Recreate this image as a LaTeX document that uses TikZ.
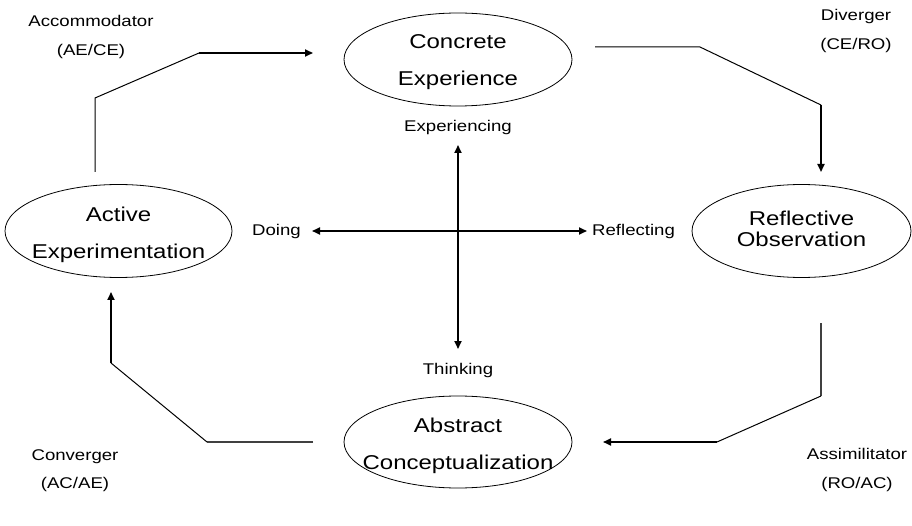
\documentclass[tikz,border=0pt]{standalone}
\usepackage{fontspec}
\setmainfont{Liberation Sans}[FakeStretch=1.2]
\usetikzlibrary{shapes.geometric,arrows.meta}
\tikzset{
  stage/.style={ellipse, draw, line width=0.8pt, inner sep=0pt},
  big/.style={align=center, font=\fontsize{20}{37}\selectfont, inner sep=0pt},
  small/.style={align=center, font=\fontsize{15.5}{28.5}\selectfont, inner sep=0pt},
  thinline/.style={line width=1pt},
  greyline/.style={line width=1.3pt, draw=black!75},
  arrowline/.style={line width=1.8pt, -{Triangle[length=8pt,width=7pt]}},
  crossline/.style={line width=1.8pt, {Triangle[length=8pt,width=7pt]}-{Triangle[length=8pt,width=7pt]}}
}
\begin{document}
\begin{tikzpicture}[x=1pt,y=-1pt]
\useasboundingbox (0,0) rectangle (912,526);

% stages
\node[stage, minimum width=228pt, minimum height=93pt,
      label={[big, yshift=-2.5pt]center:Concrete\\Experience}] (ce) at (458,59.5) {};
\node[stage, minimum width=227pt, minimum height=93pt,
      label={[big, yshift=-3.5pt]center:Active\\Experimentation}] (ae) at (118.5,231) {};
\node[stage, minimum width=219pt, minimum height=93pt,
      label={[big, font=\fontsize{20}{21.5}\selectfont, yshift=2pt]center:Reflective\\Observation}] (ro) at (801.5,231) {};
\node[stage, minimum width=228pt, minimum height=92pt,
      label={[big, yshift=-4pt]center:Abstract\\Conceptualization}] (ac) at (458,442) {};

% style labels
\node[small] (acc) at (91,37) {Accommodator\\(AE/CE)};
\node[small] (div) at (856,31) {Diverger\\(CE/RO)};
\node[small] (con) at (75,470.5) {Converger\\(AC/AE)};
\node[small] (ass) at (857,470) {Assimilitator\\(RO/AC)};

% dimension labels
\node[small] (exp) at (458,127) {Experiencing};
\node[small] (thk) at (458,370) {Thinking};
\node[small, anchor=west] (doi) at (252,231) {Doing};
\node[small, anchor=west] (ref) at (592,231) {Reflecting};

% cross
\coordinate (vt) at (458,145);
\coordinate (vb) at (458,349);
\coordinate (hl) at (312,231);
\coordinate (hr) at (587,231);
\draw[crossline] (vt) -- (vb);
\draw[crossline] (hl) -- (hr);

% cycle: AE -> CE
\coordinate (a1) at (95,172);
\coordinate (a2) at (95,98);
\coordinate (a3) at (199,53);
\coordinate (a4) at (313,53);
\draw[thinline] (a1) -- (a2) -- (a3);
\draw[arrowline] (a3) -- (a4);

% CE -> RO
\coordinate (b1) at (595,47);
\coordinate (b2) at (700,47);
\coordinate (b3) at (821,105);
\coordinate (b4) at (821,172);
\draw[thinline] (b1) -- (b2) -- (b3);
\draw[arrowline] (b3) -- (b4);

% RO -> AC
\coordinate (c1) at (821,323);
\coordinate (c2) at (821,396);
\coordinate (c3) at (717,442);
\coordinate (c4) at (603,442);
\draw[greyline] (c1) -- (c2);
\draw[thinline] (c2) -- (c3);
\draw[arrowline] (c3) -- (c4);

% AC -> AE
\coordinate (d1) at (313,442);
\coordinate (d2) at (207,442);
\coordinate (d3) at (111,363);
\coordinate (d4) at (111,292);
\draw[greyline] (d1) -- (d2);
\draw[thinline] (d2) -- (d3);
\draw[arrowline] (d3) -- (d4);
\end{tikzpicture}
\end{document}
